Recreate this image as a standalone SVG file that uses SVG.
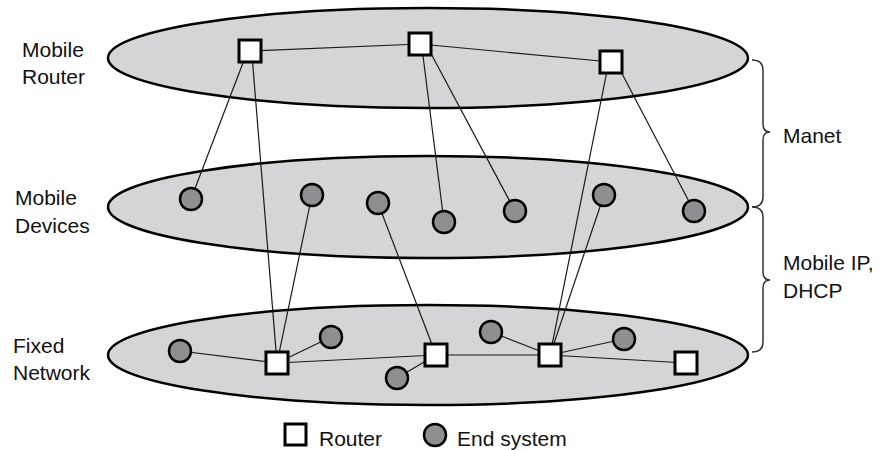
<svg xmlns="http://www.w3.org/2000/svg" width="879" height="450" viewBox="0 0 879 450">
<style>
.layer{fill:#d5d5d7;stroke:#000;stroke-width:2.5}
.router{fill:#fff;stroke:#000;stroke-width:3}
.es{fill:#8f8f91;stroke:#000;stroke-width:2.5}
.link{stroke:#1a1a1a;stroke-width:1.2;fill:none}
.brace{stroke:#333;stroke-width:1.5;fill:none}
text{font-family:"Liberation Sans",Arial,sans-serif;font-size:21px;fill:#111}
</style>
<rect width="879" height="450" fill="#fff"/>
<g id="layers">
<ellipse id="layer-mobile-router" class="layer" cx="428" cy="58" rx="320" ry="50"/>
<ellipse id="layer-mobile-devices" class="layer" cx="428" cy="207" rx="320" ry="51"/>
<ellipse id="layer-fixed-network" class="layer" cx="428" cy="355" rx="320" ry="50"/>
</g>
<g id="connectors">
<line class="link" x1="250" y1="51" x2="420" y2="44"/>
<line class="link" x1="420" y1="44" x2="611" y2="62"/>
<line class="link" x1="246" y1="55" x2="191" y2="199"/>
<line class="link" x1="252" y1="55" x2="277" y2="363"/>
<line class="link" x1="422" y1="48" x2="444" y2="222"/>
<line class="link" x1="428" y1="48" x2="515" y2="211"/>
<line class="link" x1="608" y1="66" x2="550" y2="355"/>
<line class="link" x1="618" y1="66" x2="694" y2="211"/>
<line class="link" x1="312" y1="195" x2="277" y2="363"/>
<line class="link" x1="378" y1="203" x2="436" y2="355"/>
<line class="link" x1="604" y1="195" x2="550" y2="355"/>
<line class="link" x1="180" y1="351" x2="277" y2="363"/>
<line class="link" x1="277" y1="363" x2="331" y2="337"/>
<line class="link" x1="277" y1="363" x2="436" y2="355"/>
<line class="link" x1="436" y1="355" x2="397" y2="378"/>
<line class="link" x1="436" y1="355" x2="550" y2="355"/>
<line class="link" x1="491" y1="332" x2="550" y2="355"/>
<line class="link" x1="550" y1="355" x2="624" y2="339"/>
<line class="link" x1="550" y1="355" x2="686" y2="363"/>
</g>
<g id="r1"><rect class="router" x="239" y="40" width="22" height="22"/></g>
<g id="r2"><rect class="router" x="409" y="33" width="22" height="22"/></g>
<g id="r3"><rect class="router" x="600" y="51" width="22" height="22"/></g>
<g id="e1"><circle class="es" cx="191" cy="199" r="11"/></g>
<g id="e2"><circle class="es" cx="312" cy="195" r="11"/></g>
<g id="e3"><circle class="es" cx="378" cy="203" r="11"/></g>
<g id="e4"><circle class="es" cx="444" cy="222" r="11"/></g>
<g id="e5"><circle class="es" cx="515" cy="211" r="11"/></g>
<g id="e6"><circle class="es" cx="604" cy="195" r="11"/></g>
<g id="e7"><circle class="es" cx="694" cy="211" r="11"/></g>
<g id="f1"><circle class="es" cx="180" cy="351" r="11"/></g>
<g id="f2"><circle class="es" cx="331" cy="337" r="11"/></g>
<g id="f3"><circle class="es" cx="397" cy="378" r="11"/></g>
<g id="f4"><circle class="es" cx="491" cy="332" r="11"/></g>
<g id="f5"><circle class="es" cx="624" cy="339" r="11"/></g>
<g id="r4"><rect class="router" x="266" y="352" width="22" height="22"/></g>
<g id="r5"><rect class="router" x="425" y="344" width="22" height="22"/></g>
<g id="r6"><rect class="router" x="539" y="344" width="22" height="22"/></g>
<g id="r7"><rect class="router" x="675" y="352" width="22" height="22"/></g>
<g id="labels">
<text x="22" y="57">Mobile</text>
<text x="22" y="84">Router</text>
<text x="15" y="205">Mobile</text>
<text x="15" y="233">Devices</text>
<text x="13" y="353">Fixed</text>
<text x="13" y="380">Network</text>
</g>
<g id="braces">
<path class="brace" d="M752,60 Q763,60 763,70 L763,124 Q763,132 770,132 Q763,132 763,140 L763,197 Q763,207 752,207"/>
<path class="brace" d="M752,207 Q763,207 763,217 L763,272 Q763,280 770,280 Q763,280 763,288 L763,342 Q763,352 752,352"/>
<text x="783" y="143">Manet</text>
<text x="783" y="270">Mobile IP,</text>
<text x="783" y="298">DHCP</text>
</g>
<g id="legend">
<rect class="router" x="285" y="424" width="21" height="21"/>
<text x="319" y="446">Router</text>
<circle class="es" cx="435" cy="435" r="11"/>
<text x="457" y="446">End system</text>
</g>
</svg>
